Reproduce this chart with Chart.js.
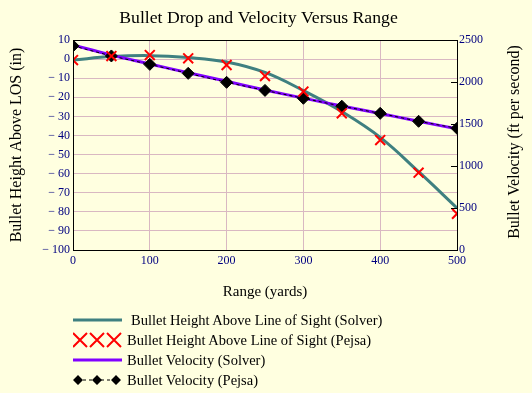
<!DOCTYPE html>
<html>
<head>
<meta charset="utf-8">
<script src="https://cdn.jsdelivr.net/npm/chart.js@4/dist/chart.umd.min.js"></script>
<style>
  body { margin: 0; background: #FFFFE0; }
  #wrap { position: relative; width: 532px; height: 393px; background: #FFFFE0; }
  #legend { position: absolute; left: 73px; top: 310px; font: 14.5px 'Liberation Serif', 'Times New Roman', serif; color: #000; }
  .row { position: relative; height: 20px; }
  .row svg { position: absolute; left: 0; top: 0; }
  .row span { position: absolute; left: 54px; top: 1px; white-space: nowrap; line-height: 18px; }
</style>
</head>
<body>
<div id="wrap">
  <canvas id="chart" width="532" height="393"></canvas>
  <div id="legend">
    <div class="row">
      <svg width="50" height="20"><line x1="0" y1="10" x2="49" y2="10" stroke="#3F8080" stroke-width="3"/></svg>
      <span style="left:58px">Bullet Height Above Line of Sight (Solver)</span>
    </div>
    <div class="row">
      <svg width="50" height="20">
        <path d="M0 3 L14 17 M0 17 L14 3 M17 3 L31 17 M17 17 L31 3 M34 3 L48 17 M34 17 L48 3" stroke="#FF0000" stroke-width="2" fill="none"/>
      </svg>
      <span>Bullet Height Above Line of Sight (Pejsa)</span>
    </div>
    <div class="row">
      <svg width="50" height="20"><line x1="0" y1="10" x2="49" y2="10" stroke="#8000FF" stroke-width="3"/></svg>
      <span>Bullet Velocity (Solver)</span>
    </div>
    <div class="row">
      <svg width="50" height="20">
        <line x1="4" y1="10" x2="44" y2="10" stroke="#000" stroke-width="1" stroke-dasharray="3,3"/>
        <path d="M5 5 L10 10 L5 15 L0 10 Z M24 5 L29 10 L24 15 L19 10 Z M43 5 L48 10 L43 15 L38 10 Z" fill="#000"/>
      </svg>
      <span>Bullet Velocity (Pejsa)</span>
    </div>
  </div>
</div>
<script>
// ── Data (range in yards)
const range         = [0, 50, 100, 150, 200, 250, 300, 350, 400, 450, 500];
const heightSolver  = [-0.5, 1.3, 1.8, 0.8, -1.5, -7, -16.5, -27.5, -41, -59, -78];
const heightPejsa   = [-0.5, 1.6, 2.1, 0.4, -3.1, -8.9, -17, -28.4, -42.4, -59.5, -81];
const velSolver     = [2440, 2320, 2215, 2110, 2008, 1905, 1808, 1714, 1625, 1532, 1442];
const velPejsa      = [2430, 2310, 2210, 2103, 1996, 1900, 1806, 1712, 1627, 1532, 1449];
const heightTicks   = [10, 0, -10, -20, -30, -40, -50, -60, -70, -80, -90, -100];
const velTicks      = [0, 500, 1000, 1500, 2000, 2500];

const SERIF = "'Liberation Serif', 'Times New Roman', serif";
const NAVY  = '#000080';
const GRID  = '#D9B8C2';

const pts = ys => range.map((x, i) => ({ x, y: ys[i] }));

// ── Background, title, plot clipping, frame, right-axis inner ticks and right title
const extras = {
  id: 'extras',
  beforeDraw(chart) {
    const ctx = chart.ctx;
    ctx.save();
    ctx.fillStyle = '#FFFFE0';
    ctx.fillRect(0, 0, chart.width, chart.height);
    ctx.fillStyle = '#000';
    ctx.font = '17.7px ' + SERIF;
    ctx.textAlign = 'center';
    ctx.textBaseline = 'middle';
    ctx.fillText('Bullet Drop and Velocity Versus Range', 258.5, 18);
    ctx.restore();
  },
  beforeDatasetsDraw(chart) {
    const { ctx, chartArea: a } = chart;
    ctx.save();
    ctx.beginPath();
    ctx.rect(a.left, a.top, a.right - a.left, a.bottom - a.top);
    ctx.clip();
  },
  afterDatasetsDraw(chart) {
    chart.ctx.restore();
  },
  afterDraw(chart) {
    const { ctx, chartArea: a } = chart;
    const y1 = chart.scales.y1;
    ctx.save();
    ctx.strokeStyle = '#000';
    ctx.lineWidth = 1;
    ctx.strokeRect(Math.round(a.left) + 0.5, Math.round(a.top) + 0.5, Math.round(a.right - a.left), Math.round(a.bottom - a.top));
    ctx.beginPath();
    velTicks.forEach(v => {
      const y = Math.round(y1.getPixelForValue(v)) + 0.5;
      ctx.moveTo(a.right - 6, y);
      ctx.lineTo(a.right, y);
    });
    ctx.stroke();
    ctx.translate(515, 142);
    ctx.rotate(-Math.PI / 2);
    ctx.fillStyle = '#000';
    ctx.font = '16px ' + SERIF;
    ctx.textAlign = 'center';
    ctx.textBaseline = 'middle';
    ctx.fillText('Bullet Velocity (ft per second)', 0, 0);
    ctx.restore();
  }
};

new Chart(document.getElementById('chart'), {
  type: 'line',
  data: {
    datasets: [
      { label: 'Bullet Height Above Line of Sight (Solver)', data: pts(heightSolver), yAxisID: 'y',
        borderColor: '#3F8080', borderWidth: 3, pointRadius: 0, tension: 0.4, order: 3 },
      { label: 'Bullet Height Above Line of Sight (Pejsa)', data: pts(heightPejsa), yAxisID: 'y',
        showLine: false, pointStyle: 'crossRot', pointRadius: 7, borderColor: '#FF0000', borderWidth: 2, order: 0 },
      { label: 'Bullet Velocity (Solver)', data: pts(velSolver), yAxisID: 'y1',
        borderColor: '#8000FF', borderWidth: 3, pointRadius: 0, tension: 0.4, order: 2 },
      { label: 'Bullet Velocity (Pejsa)', data: pts(velPejsa), yAxisID: 'y1',
        borderColor: '#000', borderWidth: 1, borderDash: [3, 3], pointStyle: 'rectRot', pointRadius: 6,
        pointBackgroundColor: '#000', pointBorderColor: '#000', order: 1 }
    ]
  },
  options: {
    responsive: false,
    animation: false,
    layout: { padding: { left: 0, right: 0, top: 40, bottom: 88 } },
    plugins: {
      legend: { display: false },
      tooltip: { enabled: false },
      title: { display: false }
    },
    scales: {
      x: {
        type: 'linear', min: 0, max: 500,
        afterBuildTicks: s => { s.ticks = range.filter(v => v % 100 === 0).map(v => ({ value: v })); },
        afterFit: s => { s.height = 55; s.paddingLeft = 0; s.paddingRight = 0; },
        grid: { color: GRID, drawTicks: false },
        border: { color: '#000' },
        ticks: { color: NAVY, font: { family: SERIF, size: 12 }, padding: 4, maxRotation: 0 },
        title: { display: true, text: 'Range (yards)', color: '#000', font: { family: SERIF, size: 15 }, padding: { top: 4, bottom: 4 } }
      },
      y: {
        position: 'left', min: -100, max: 10,
        afterBuildTicks: s => { s.ticks = heightTicks.map(v => ({ value: v })); },
        afterFit: s => { s.width = 73; s.paddingTop = 0; s.paddingBottom = 0; },
        grid: { color: GRID, drawTicks: false },
        border: { color: '#000' },
        ticks: { color: NAVY, font: { family: SERIF, size: 12 }, padding: 3,
                 callback: v => v < 0 ? '\u2212 ' + (-v) : String(v) },
        title: { display: true, text: 'Bullet Height Above LOS (in)', color: '#000', font: { family: SERIF, size: 16 }, padding: { top: 7, bottom: 0 } }
      },
      y1: {
        position: 'right', min: 0, max: 2500,
        afterBuildTicks: s => { s.ticks = velTicks.map(v => ({ value: v })); },
        afterFit: s => { s.width = 75; s.paddingTop = 0; s.paddingBottom = 0; },
        grid: { display: false, drawTicks: false },
        border: { color: '#000' },
        ticks: { color: NAVY, font: { family: SERIF, size: 12 }, padding: 2, callback: v => String(v) }
      }
    }
  },
  plugins: [extras]
});
</script>
</body>
</html>
